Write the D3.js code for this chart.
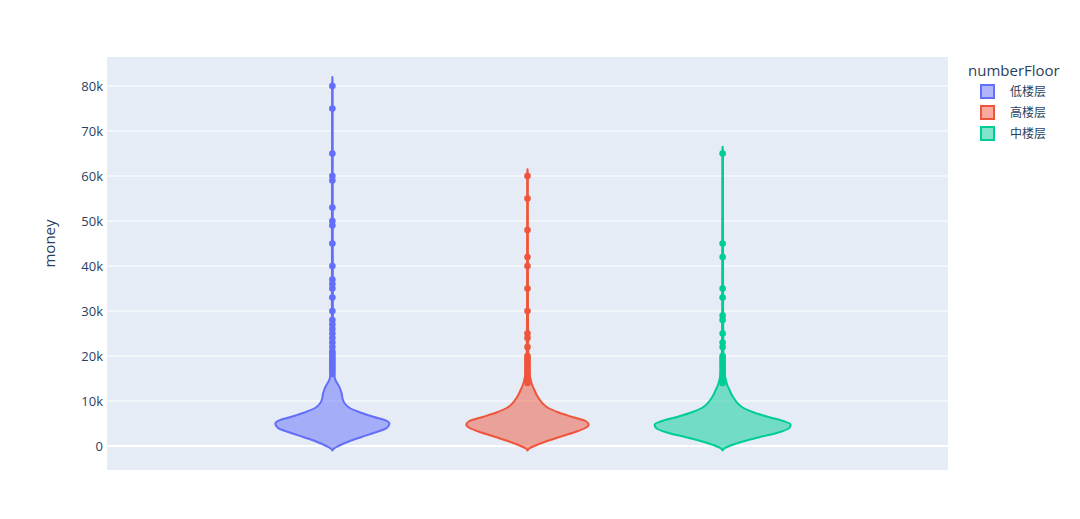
<!DOCTYPE html>
<html>
<head>
<meta charset="utf-8">
<script src="https://cdn.jsdelivr.net/npm/d3@7"></script>
<style>
  body { margin: 0; background: #fff; }
  text { font-family: "Open Sans", "Noto Sans CJK SC", sans-serif; fill: #2a3f5f; }
</style>
</head>
<body>
<div id="chart"></div>
<script>
// categories (legend order) and colours
const floors = ['低楼层', '高楼层', '中楼层'];
const colors = ['#636efa', '#EF553B', '#00cc96'];

// y ticks (money)
const yTicks = [0, 10000, 20000, 30000, 40000, 50000, 60000, 70000, 80000];

// violin outline: money value (k) and relative density per group
const lowVals  = [-1, -0.5, 0, 1, 2, 3, 4, 5, 5.6, 6.5, 7.5, 8.5, 9.5, 10.5, 11.5, 12.5, 13.5, 14.5, 16, 18, 22, 30, 45, 65, 80, 82];
const lowDens  = [0, 0.03, 0.09, 0.24, 0.43, 0.63, 0.8, 0.84, 0.8, 0.6, 0.4, 0.25, 0.18, 0.15, 0.14, 0.12, 0.09, 0.05, 0.025, 0.015, 0.01, 0.007, 0.006, 0.005, 0.004, 0];
const highVals = [-1, -0.5, 0, 1, 2, 3, 4, 4.8, 5.5, 6.5, 7.5, 8.5, 9.5, 10.5, 11.5, 12.5, 13.5, 14.5, 16, 18, 22, 30, 45, 60, 61.5];
const highDens = [0, 0.03, 0.1, 0.27, 0.47, 0.68, 0.85, 0.9, 0.86, 0.65, 0.45, 0.3, 0.22, 0.17, 0.13, 0.1, 0.07, 0.05, 0.03, 0.015, 0.01, 0.007, 0.006, 0.005, 0];
const midVals  = [-1, -0.5, 0, 1, 2, 3, 4, 4.8, 5.5, 6.5, 7.5, 8.5, 9.5, 10.5, 11.5, 12.5, 13.5, 14.5, 16, 18, 22, 30, 45, 65, 66.5];
const midDens  = [0, 0.03, 0.1, 0.3, 0.55, 0.82, 0.98, 1.0, 0.9, 0.66, 0.45, 0.3, 0.22, 0.17, 0.13, 0.1, 0.07, 0.05, 0.03, 0.015, 0.01, 0.007, 0.006, 0.005, 0];

// outlier points (money, k)
const lowPts  = [80, 75, 65, 60, 59, 53, 50, 49, 45, 40, 37, 36, 35, 33, 30, 28, 27, 26, 25, 24, 23, 22, 21, 20.5, 20, 19.5, 19, 18.5, 18, 17.5, 17, 16.5, 16];
const highPts = [60, 55, 48, 42, 40, 35, 30, 25, 24, 22, 20, 19.5, 19, 18.5, 18, 17.5, 17, 16.5, 16, 15.5, 15, 14.5, 14];
const midPts  = [65, 45, 42, 35, 33, 29, 28, 25, 23, 22, 20, 19.5, 19, 18.5, 18, 17.5, 17, 16.5, 16, 15.5, 15, 14.5, 14];

const groups = [
  {name: floors[0], vals: lowVals, dens: lowDens, pts: lowPts},
  {name: floors[1], vals: highVals, dens: highDens, pts: highPts},
  {name: floors[2], vals: midVals, dens: midDens, pts: midPts}
];

const W = 1080, H = 519;
const margin = {top: 57, right: 132, bottom: 49, left: 107};
const pw = W - margin.left - margin.right;
const ph = H - margin.top - margin.bottom;

const svg = d3.select('#chart').append('svg')
    .attr('width', W)
    .attr('height', H);

const g = svg.append('g')
    .attr('transform', `translate(${margin.left},${margin.top})`);

g.append('rect')
    .attr('width', pw)
    .attr('height', ph)
    .attr('fill', '#E5ECF6');

const y = d3.scaleLinear().domain([-5333, 86444]).range([ph, 0]);
const x = d3.scaleLinear().domain([-1.155, 3.155]).range([0, pw]);
const w = d3.scaleLinear().domain([0, 1]).range([0, 68]);

// gridlines
g.selectAll('.grid')
    .data(yTicks)
    .enter().append('line')
    .attr('x1', 0).attr('x2', pw)
    .attr('y1', d => y(d)).attr('y2', d => y(d))
    .attr('stroke', '#fff')
    .attr('stroke-width', d => d === 0 ? 2 : 1);

// y axis labels
const yAxis = d3.axisLeft(y)
    .tickValues(yTicks)
    .tickSize(0)
    .tickPadding(4)
    .tickFormat(d => d === 0 ? '0' : (d / 1000) + 'k');
const ya = g.append('g').call(yAxis);
ya.select('.domain').remove();
ya.selectAll('text')
    .attr('font-size', 13)
    .style('font-family', '"Open Sans", sans-serif')
    .attr('fill', '#2a3f5f');

svg.append('text')
    .attr('transform', `translate(55,${margin.top + y(45000)}) rotate(-90)`)
    .attr('text-anchor', 'middle')
    .attr('font-size', 15)
    .text('money');

// violins
groups.forEach((grp, i) => {
  const cx = x(i);
  const outline = grp.vals.map((v, k) => ({v: v * 1000, d: grp.dens[k]}));
  const area = d3.area()
      .y(d => y(d.v))
      .x0(d => cx - w(d.d))
      .x1(d => cx + w(d.d))
      .curve(d3.curveMonotoneY);
  g.append('path')
      .datum(outline)
      .attr('d', area)
      .attr('fill', colors[i])
      .attr('fill-opacity', 0.5)
      .attr('stroke', colors[i])
      .attr('stroke-width', 2)
      .attr('stroke-linejoin', 'round');

  g.selectAll('.pt' + i)
      .data(grp.pts)
      .enter().append('circle')
      .attr('cx', cx)
      .attr('cy', d => y(d * 1000))
      .attr('r', 3.3)
      .attr('fill', colors[i]);
});

// legend
const legend = svg.append('g').attr('transform', 'translate(968,0)');
legend.append('text')
    .attr('x', 0).attr('y', 76)
    .attr('font-size', 15)
    .text('numberFloor');
floors.forEach((f, i) => {
  const row = legend.append('g').attr('transform', `translate(0,${91 + i * 21})`);
  row.append('rect')
      .attr('x', 13).attr('y', -6)
      .attr('width', 13).attr('height', 13)
      .attr('fill', colors[i])
      .attr('fill-opacity', 0.5)
      .attr('stroke', colors[i])
      .attr('stroke-width', 2);
  row.append('text')
      .attr('x', 42).attr('y', 5)
      .attr('font-size', 12)
      .style('font-family', '"Noto Sans CJK SC", sans-serif')
      .text(f);
});
</script>
</body>
</html>
